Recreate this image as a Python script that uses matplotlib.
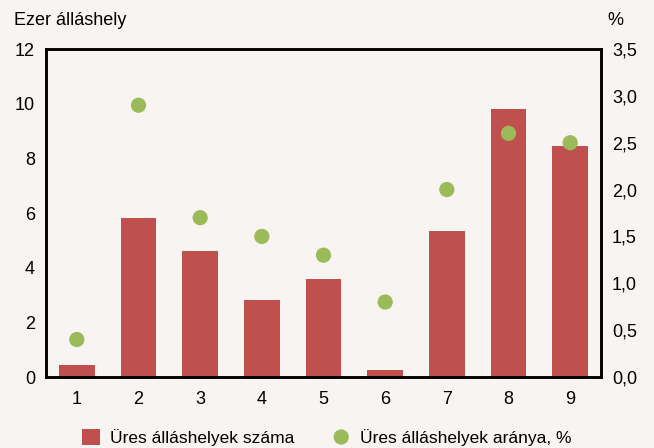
import matplotlib.pyplot as plt
from matplotlib.ticker import FuncFormatter

plt.rcParams["font.family"] = ["Liberation Sans", "DejaVu Sans"]

categories = [1, 2, 3, 4, 5, 6, 7, 8, 9]
vacancies = [0.45, 5.8, 4.6, 2.8, 3.6, 0.25, 5.35, 9.8, 8.45]
vacancy_rate = [0.4, 2.9, 1.7, 1.5, 1.3, 0.8, 2.0, 2.6, 2.5]

bg = "#f7f4f1"
bar_color = "#c0504d"
dot_color = "#9bbb59"

fig = plt.figure(figsize=(6.54, 4.48), dpi=100, facecolor=bg)
ax = fig.add_axes([46 / 654, 1 - 377 / 448, 555 / 654, 328 / 448])
ax.set_facecolor(bg)

ax.bar(categories, vacancies, width=0.58, color=bar_color,
       label="Üres álláshelyek száma", zorder=2)
ax.set_ylim(0, 12)
ax.set_xlim(0.5, 9.5)
ax.set_yticks(range(0, 13, 2))
ax.set_xticks(categories)

ax2 = ax.twinx()
ax2.scatter(categories, vacancy_rate, s=120, color=dot_color, edgecolors="none",
            label="Üres álláshelyek aránya, %", zorder=3)
ax2.set_ylim(0, 3.5)
ax2.set_yticks([i * 0.5 for i in range(8)])
ax2.yaxis.set_major_formatter(FuncFormatter(lambda v, p: f"{v:.1f}".replace(".", ",")))

for a in (ax, ax2):
    for s in a.spines.values():
        s.set_linewidth(1.8)
        s.set_color("black")
    a.tick_params(length=0, labelsize=13, pad=8)
ax.tick_params(axis="x", pad=10)

ax.text(-0.058, 1.06, "Ezer álláshely", transform=ax.transAxes, fontsize=13,
        ha="left", va="bottom")
ax2.text(1.04, 1.06, "%", transform=ax2.transAxes, fontsize=13,
         ha="right", va="bottom")

h1, l1 = ax.get_legend_handles_labels()
h2, l2 = ax2.get_legend_handles_labels()
fig.legend(h1 + h2, l1 + l2, loc="lower center", ncol=2, frameon=False,
           fontsize=12.5, bbox_to_anchor=(0.5, -0.03), handlelength=1.0,
           handleheight=1.0, columnspacing=2.2, handletextpad=0.6)

fig.savefig("out.png", dpi=100, facecolor=bg)
